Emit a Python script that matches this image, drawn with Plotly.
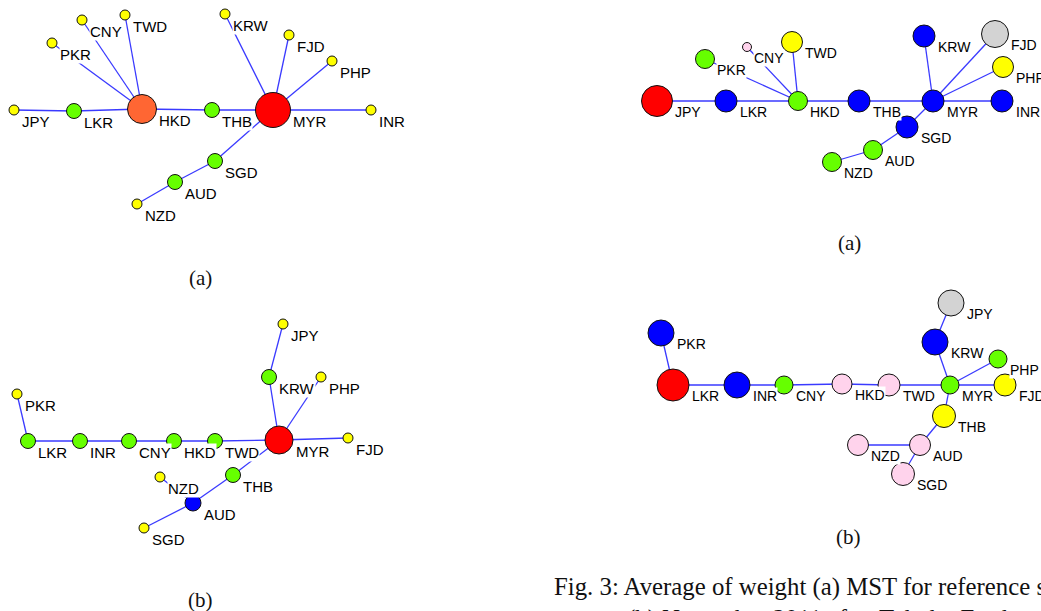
import plotly.graph_objects as go

# ---------------- data ----------------
COL = {"Y": "#ffff00", "G": "#66ff00", "O": "#ff6633", "R": "#ff0000",
       "B": "#0000ff", "S": "#d3d3d3", "P": "#ffd3ec"}

# top-left MST
p1_names = ["JPY", "LKR", "HKD", "THB", "MYR", "INR", "PKR", "CNY", "TWD", "KRW", "FJD", "PHP", "SGD", "AUD", "NZD"]
p1_x = [14, 74, 142, 212, 273, 371, 52, 82, 125, 225, 289, 332, 215, 175, 137]
p1_y = [110, 111, 109, 110, 110, 110, 43, 20, 15, 14, 35, 61, 161, 182, 204]
p1_size = [10, 15, 29, 15, 35, 10, 10, 10, 10, 10, 10, 10, 15, 15, 10]
p1_col = ["Y", "G", "O", "G", "R", "Y", "Y", "Y", "Y", "Y", "Y", "Y", "G", "G", "Y"]
p1_edges = [("JPY", "LKR"), ("LKR", "HKD"), ("HKD", "PKR"), ("HKD", "CNY"), ("HKD", "TWD"),
            ("HKD", "THB"), ("THB", "MYR"), ("MYR", "KRW"), ("MYR", "FJD"), ("MYR", "PHP"),
            ("MYR", "INR"), ("MYR", "SGD"), ("SGD", "AUD"), ("AUD", "NZD")]

# bottom-left MST
p2_names = ["PKR", "LKR", "INR", "CNY", "HKD", "TWD", "MYR", "FJD", "JPY", "KRW", "PHP", "THB", "AUD", "NZD", "SGD"]
p2_x = [17, 28, 80, 129, 174, 215, 279, 348, 283, 269, 321, 233, 193, 160, 144]
p2_y = [394, 441, 441, 441, 441, 441, 440, 438, 324, 377, 377, 475, 503, 477, 528]
p2_size = [10, 15, 15, 15, 15, 15, 28, 10, 10, 15, 10, 15, 16, 10, 10]
p2_col = ["Y", "G", "G", "G", "G", "G", "R", "Y", "Y", "G", "Y", "G", "B", "Y", "Y"]
p2_edges = [("PKR", "LKR"), ("LKR", "INR"), ("INR", "CNY"), ("CNY", "HKD"), ("HKD", "TWD"),
            ("TWD", "MYR"), ("MYR", "KRW"), ("KRW", "JPY"), ("MYR", "PHP"), ("MYR", "FJD"),
            ("MYR", "THB"), ("THB", "AUD"), ("AUD", "NZD"), ("AUD", "SGD")]

# top-right MST
p3_names = ["JPY", "LKR", "HKD", "THB", "MYR", "INR", "PKR", "CNY", "TWD", "KRW", "FJD", "PHP", "SGD", "AUD", "NZD"]
p3_x = [657, 726, 798, 859, 933, 1002, 705, 747, 792, 924, 995, 1003, 907, 873, 832]
p3_y = [101, 101, 101, 101, 101, 101, 59, 47, 42, 36, 34, 67, 127, 150, 162]
p3_size = [31, 22, 19, 22, 22, 22, 19, 9, 21, 22, 27, 21, 22, 19, 19]
p3_col = ["R", "B", "G", "B", "B", "B", "G", "P", "Y", "B", "S", "Y", "B", "G", "G"]
p3_edges = p1_edges

# bottom-right MST
p4_names = ["PKR", "LKR", "INR", "CNY", "HKD", "TWD", "MYR", "FJD", "PHP", "KRW", "JPY", "THB", "AUD", "NZD", "SGD"]
p4_x = [661, 673, 737, 784, 842, 889, 950, 1005, 998, 935, 951, 944, 920, 858, 903]
p4_y = [333, 385, 385, 385, 384, 385, 385, 385, 359, 342, 303, 416, 445, 445, 474]
p4_size = [26, 32, 26, 18, 20, 22, 18, 22, 18, 26, 26, 23, 21, 21, 23]
p4_col = ["B", "R", "B", "G", "P", "P", "G", "Y", "G", "B", "S", "Y", "P", "P", "P"]
p4_edges = p2_edges

panel_tags = ["(a)", "(b)", "(a)", "(b)"]
tag_x = [200, 200, 849, 848]
tag_y = [278, 600, 243, 537]

caption_1 = "Fig. 3: Average of weight (a) MST for reference s"
caption_2 = "(b) November 2011 after Tohoku Earthquake"

panels = [
    (p1_names, p1_x, p1_y, p1_size, p1_col, p1_edges, 15),
    (p2_names, p2_x, p2_y, p2_size, p2_col, p2_edges, 15),
    (p3_names, p3_x, p3_y, p3_size, p3_col, p3_edges, 14),
    (p4_names, p4_x, p4_y, p4_size, p4_col, p4_edges, 14),
]

# ---------------- figure ----------------
fig = go.Figure()
annotations = []

for names, xs, ys, sizes, cols, edges, fsize in panels:
    idx = {n: i for i, n in enumerate(names)}
    ex, ey = [], []
    for a, b in edges:
        ex += [xs[idx[a]], xs[idx[b]], None]
        ey += [ys[idx[a]], ys[idx[b]], None]
    fig.add_trace(go.Scatter(x=ex, y=ey, mode="lines",
                             line=dict(color="#3a3aff", width=1.3),
                             hoverinfo="skip", showlegend=False))
    for n, x, y, s in zip(names, xs, ys, sizes):
        annotations.append(dict(x=x + s / 2 + 1.5, y=y + 11, text=n, showarrow=False,
                                xanchor="left", yanchor="middle", bgcolor="white",
                                borderpad=0,
                                font=dict(family="Liberation Sans, Arial", size=fsize, color="#000000")))

for names, xs, ys, sizes, cols, edges, fsize in panels:
    fig.add_trace(go.Scatter(x=xs, y=ys, mode="markers",
                             marker=dict(size=sizes, color=[COL[c] for c in cols], opacity=1,
                                         line=dict(color="#111111", width=1)),
                             hoverinfo="skip", showlegend=False))

for t, x, y in zip(panel_tags, tag_x, tag_y):
    annotations.append(dict(x=x, y=y, text=t, showarrow=False, xanchor="center", yanchor="middle",
                            font=dict(family="Liberation Serif, Times New Roman", size=21, color="#111111")))

annotations.append(dict(x=552, y=587, text=caption_1, showarrow=False, xanchor="left", yanchor="middle",
                        font=dict(family="Liberation Serif, Times New Roman", size=24.8, color="#111111")))
annotations.append(dict(x=625, y=603, text=caption_2, showarrow=False, xanchor="left", yanchor="top",
                        font=dict(family="Liberation Serif, Times New Roman", size=24.8, color="#111111")))

W, H = 1041, 611
fig.update_layout(
    width=W, height=H,
    margin=dict(l=0, r=0, t=0, b=0),
    paper_bgcolor="white", plot_bgcolor="white",
    xaxis=dict(range=[0, W], visible=False, fixedrange=True),
    yaxis=dict(range=[H, 0], visible=False, fixedrange=True),
    annotations=annotations,
)

# remove the browser's default 8px page margin so the figure fills the window
fig.write_html("out.html",
               config={"displayModeBar": False},
               post_script="document.body.style.margin='0px';document.body.style.overflow='hidden';")
